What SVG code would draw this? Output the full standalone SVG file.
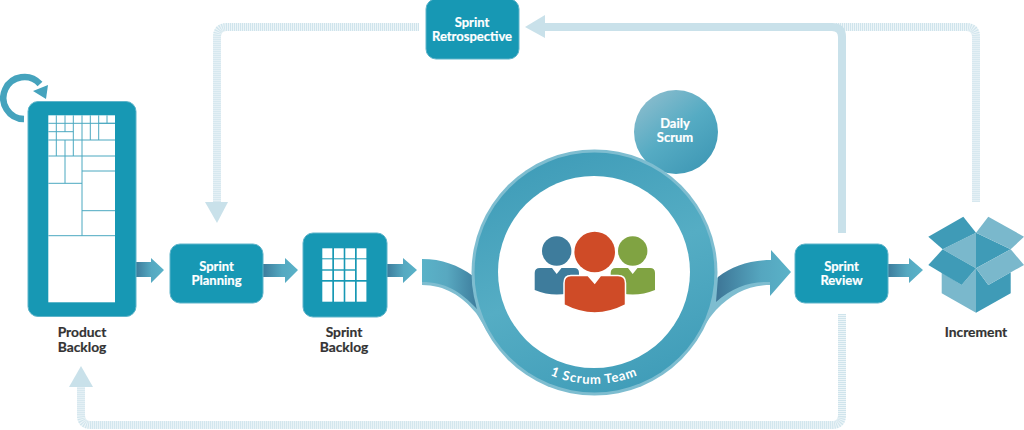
<svg xmlns="http://www.w3.org/2000/svg" width="1024" height="430" viewBox="0 0 1024 430">
<style>
.box{fill:#1798b4;stroke:#5fb4ca;stroke-width:1}
.lb{font-family:Lato,"Liberation Sans",sans-serif;font-weight:700;font-size:13px;text-anchor:middle;stroke-width:.2}
.w{fill:#fff;stroke:#fff}.d{fill:#333;stroke:#333;font-size:13.800px}
.hb{fill:none;stroke:#edf5f8;stroke-width:8}
.hd{fill:none;stroke:#cfe4ec;stroke-width:8;stroke-dasharray:1 1}
.so{fill:none;stroke:#c9e1ea;stroke-width:8}
.hh{fill:#c9e1ea}
.dk{fill:#3f9bb7}.lt{fill:#7ab8cc}
.gl{stroke:#4aa8c0;stroke-width:1;fill:none}
.wf{fill:#fff}
</style>
<defs>
<linearGradient id="ag" x1="0" y1="0" x2="1" y2="0"><stop offset="0" stop-color="#3d7c9c"/><stop offset=".55" stop-color="#55a9c1"/><stop offset="1" stop-color="#5ab2c8"/></linearGradient>
<linearGradient id="sl" gradientUnits="userSpaceOnUse" x1="422" y1="0" x2="478" y2="0"><stop offset="0" stop-color="#5ab2c8"/><stop offset=".45" stop-color="#58a8c0"/><stop offset="1" stop-color="#3d7c9c"/></linearGradient>
<linearGradient id="sr" gradientUnits="userSpaceOnUse" x1="716" y1="0" x2="791" y2="0"><stop offset="0" stop-color="#3d7596"/><stop offset=".6" stop-color="#55a6bf"/><stop offset="1" stop-color="#5ab2c8"/></linearGradient>
<linearGradient id="rg" gradientUnits="userSpaceOnUse" x1="545" y1="150" x2="644" y2="395"><stop offset="0" stop-color="#3f9cb8"/><stop offset=".5" stop-color="#55adc4"/><stop offset="1" stop-color="#3f9cb8"/></linearGradient>
<linearGradient id="dg" x1=".15" y1=".05" x2=".85" y2=".95"><stop offset="0" stop-color="#8abccd"/><stop offset=".5" stop-color="#55abc3"/><stop offset="1" stop-color="#3f98b5"/></linearGradient>
<path id="tp" d="M482 272A112 112 0 0 0 706 272"/>
</defs>
<g id="connectors">
<path class="hb" d="M419 27H227Q217 27 217 37V203"/><path class="hd" d="M419 27H227Q217 27 217 37V203"/>
<polygon class="hh" points="205,202 228,202 217,223"/>
<path class="hb" d="M836 27H966Q976 27 976 37V202"/><path class="hd" d="M836 27H966Q976 27 976 37V202"/>
<path class="hb" d="M842 314V415Q842 425 832 425H91Q81 425 81 415V387"/><path class="hd" d="M842 314V415Q842 425 832 425H91Q81 425 81 415V387"/>
<polygon class="hh" points="69,387 93,387 81,366"/>
<path class="so" d="M545 27H832Q842 27 842 37V233"/>
<polygon class="hh" points="525,27 545,15 545,38"/>
<path d="M24 119A21 21 0 1 1 40 84" fill="none" stroke="#45a3bd" stroke-width="6.500"/>
<polygon points="48,85 46,99 33,91" fill="#45a3bd"/>
<polygon fill="url(#ag)" points="136,262 151,262 151,258 164,270 151,283 151,277 136,277"/>
<polygon fill="url(#ag)" points="263,264 285,264 285,258 298,270 285,283 285,277 263,277"/>
<polygon fill="url(#ag)" points="387,264 403,264 403,258 417,270 403,283 403,277 387,277"/>
<polygon fill="url(#ag)" points="888,264 909,264 909,258 923,270 909,283 909,277 888,277"/>
<path fill="#7ebdd0" d="M422 270V285C445 285 462 296 476 313C482 322 486 330 494 342L485 280Z"/>
<path fill="url(#sl)" d="M422 259C442 259 458 265 473 276L477 309C460 291 445 282 422 282Z"/>
<path fill="#7ebdd0" d="M771 270V285C748 285 732 294 716 310C708 319 702 330 692 342L700 280Z"/>
<path fill="url(#sr)" d="M771 260V250L791 272L770 296V282C750 281 733 287 716 302L718 277C732 266 750 260 771 260Z"/>
</g>
<g id="product-backlog">
<rect class="box" x="28" y="101.500" width="108" height="215" rx="10"/>
<rect class="wf" x="48.300" y="115.300" width="66.700" height="187"/>
<path class="gl" d="M56.300 115.300V156M65 115.300V132M65 140V156M73.300 115.300V156M82 115.300V156M90.300 115.300V140M98.700 115.300V140M107 115.300V123M48.300 123.300H115M48.300 131.700H73.300M48.300 140H115M98.700 123.300H115M48.300 156H115M65 156V183.300M82 156V235.700M48.300 183.300H82M82 171H115M82 210.700H115M48.300 235.700H115"/>
<text class="lb d" x="82" y="337">Product</text><text class="lb d" x="82" y="352">Backlog</text>
</g>
<g id="sprint-retrospective">
<rect class="box" x="426" y="-1" width="93" height="60" rx="10"/>
<text class="lb w" x="472" y="26.500">Sprint</text><text class="lb w" x="472" y="40.500">Retrospective</text>
</g>
<g id="sprint-planning">
<rect class="box" x="170" y="244" width="93" height="59" rx="10"/>
<text class="lb w" x="216.500" y="270.500">Sprint</text><text class="lb w" x="216.500" y="284.500">Planning</text>
</g>
<g id="sprint-backlog">
<rect class="box" x="303" y="233" width="84" height="84" rx="10"/>
<g class="wf">
<rect x="322.300" y="248.300" width="10" height="10"/><rect x="334" y="248.300" width="9.700" height="10"/><rect x="345.300" y="248.300" width="9.700" height="10"/><rect x="356.700" y="248.300" width="9.700" height="10"/>
<rect x="322.300" y="259.300" width="10" height="10"/><rect x="334" y="259.300" width="9.700" height="10"/><rect x="345.300" y="259.300" width="9.700" height="10"/><rect x="356.700" y="259.300" width="9.700" height="20.700"/>
<rect x="322.300" y="270.700" width="10" height="9.300"/><rect x="334" y="270.700" width="9.700" height="9.300"/><rect x="345.300" y="270.700" width="9.700" height="9.300"/>
<rect x="322.300" y="281.700" width="10" height="20"/><rect x="334" y="281.700" width="9.700" height="20"/><rect x="345.300" y="281.700" width="9.700" height="20"/><rect x="356.700" y="281.700" width="9.700" height="20"/>
</g>
<text class="lb d" x="344" y="337">Sprint</text><text class="lb d" x="344" y="352">Backlog</text>
</g>
<g id="daily-scrum">
<circle cx="676" cy="132" r="42" fill="url(#dg)"/>
<text class="lb w" x="675" y="128">Daily</text><text class="lb w" x="675" y="142">Scrum</text>
</g>
<g id="scrum-team">
<circle cx="594.500" cy="272.500" r="123" fill="#7ebdd0"/>
<circle cx="594.500" cy="272.500" r="120" fill="url(#rg)"/>
<circle cx="594" cy="272" r="96" fill="#fff"/>
<text font-family="Lato,'Liberation Sans',sans-serif" font-weight="700" font-size="13" fill="#fff" letter-spacing=".8" text-anchor="middle"><textPath href="#tp" startOffset="50%">1 Scrum Team</textPath></text>
<g id="people">
<circle cx="556.700" cy="251" r="14.700" fill="#3e7c9c"/>
<path fill="#3e7c9c" d="M534.700 290V273Q534.700 268 540 268H552L556.700 274L561.500 268H574Q579 268 579 273V290Q556.700 299 534.700 290Z"/>
<circle cx="632.700" cy="251" r="14.700" fill="#80a342"/>
<path fill="#80a342" d="M610.700 290V273Q610.700 268 616 268H628L632.700 274L637.500 268H650Q655 268 655 273V290Q632.700 299 610.700 290Z"/>
<path fill="#cf4b27" stroke="#fff" stroke-width="1.500" d="M564 305V283Q564 275.500 571 275.500H588L594.700 283L600.500 275.500H618Q625.500 275.500 625.500 283V305Q594.700 321 564 305Z"/>
<circle cx="594.700" cy="252" r="20.300" fill="#cf4b27"/>
</g>
</g>
<g id="sprint-review">
<rect class="box" x="795" y="244" width="93" height="59" rx="10"/>
<text class="lb w" x="841.500" y="270.500">Sprint</text><text class="lb w" x="841.500" y="284.500">Review</text>
</g>
<g id="increment">
<polygon class="lt" points="941.700,272.300 961.700,285 976,268.300 976,312.700 941.700,293.300"/>
<polygon class="dk" points="976,268.300 988.300,285 1010.700,272.300 1010.700,293.300 976,312.700"/>
<polygon class="lt" points="942.700,249.300 976,232.700 976,268.300"/>
<polygon class="dk" points="976,232.700 1010.700,249.300 976,268.300"/>
<polygon class="dk" points="928.300,236.700 963.300,216.700 976,232.700 942.700,249.300"/>
<polygon class="lt" points="988.300,216.700 1024,236.700 1010.700,249.300 976,232.700"/>
<polygon class="dk" points="942.700,249.300 976,268.300 961.700,285 928.300,265"/>
<polygon class="lt" points="1010.700,249.300 1024,265 988.300,285 976,268.300"/>
<text class="lb d" x="976" y="337">Increment</text>
</g>
</svg>
